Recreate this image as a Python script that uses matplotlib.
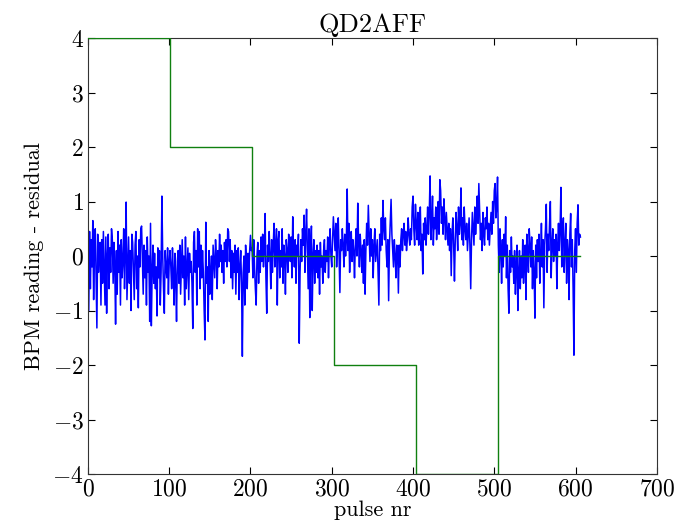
import numpy as np
import matplotlib
matplotlib.use("Agg")
import matplotlib.pyplot as plt

plt.rcParams["font.family"] = "serif"
plt.rcParams["font.serif"] = ["cmr10"]
plt.rcParams["mathtext.fontset"] = "cm"
plt.rcParams["axes.formatter.use_mathtext"] = True

# BPM residual per pulse in blocks of ~101 pulses
residual_a = [0.55, -1.0, 0.45, -0.6, 0.3, -0.2, 0.65, -0.8, 0.15, 0.5,
              -0.4, -1.32, 0.4, -0.3, 0.1, 0.25, -0.9, 0.3, -0.5, 0.45,
              -0.2, -0.9, 0.35, -1.05, 0.0, 0.4, -0.6, 0.15, -0.3, 0.5,
              0.3, -0.5, 0.25, -0.2, -1.25, 0.1, -0.7, 0.45, -0.3, 0.2,
              -0.9, 0.3, -0.4, -0.1, 0.5, -0.6, 0.05, 0.99, -0.8, -0.2,
              0.35, -0.5, 0.1, -1.0, 0.4, 0.25, -0.3, -0.8, 0.2, 0.45,
              -0.6, 0.0, -0.95, 0.3, -0.2, 0.5, 0.55, -0.1, -0.7, 0.2,
              -0.4, 0.1, -0.9, 0.35, -0.3, 0.0, -1.2, 0.6, -1.28, -0.3,
              0.2, -0.5, 0.05, -0.6, -0.2, -1.1, 0.15, -0.4, 0.1, -0.9,
              -0.3, 1.1, 0.0, -0.6, -1.05, 0.1, -0.2, -0.4, 0.15, -0.7, -0.1]
residual_b = [0.1, -0.2, -0.6, 0.15, -0.3, -0.9, 0.05, -0.4, -1.2, -0.1,
              0.1, -0.5, 0.2, -0.7, -0.2, 0.3, -0.4, 0.0, -0.9, 0.35,
              -0.6, -0.2, 0.15, -0.8, 0.05, -0.3, -0.1, -0.5, -1.33, 0.25,
              0.45, -0.3, 0.1, -0.9, 0.5, -0.2, 0.45, -0.6, 0.2, -0.4,
              0.1, -0.3, -1.0, -1.54, 0.62, -0.5, -0.2, -1.2, 0.1, -0.7,
              -0.3, 0.0, -0.8, 0.2, -0.1, -0.4, 0.3, 0.0, -0.6, 0.1,
              -0.2, 0.4, -0.1, 0.2, -0.3, 0.1, -0.5, 0.25, -0.1, 0.3,
              -0.2, 0.5, 0.45, -0.1, 0.3, -0.4, 0.1, -0.6, 0.05, -0.3,
              0.2, -0.7, 0.1, -0.3, 0.15, -0.8, -0.2, 0.1, -0.5, -1.84,
              -0.3, 0.0, -0.9, 0.2, -0.1, -0.6, 0.05, -0.3, 0.1, 0.38, 0.1]
residual_c = [0.15, -0.4, 0.3, -0.2, -0.6, -0.9, 0.0, 0.25, -0.5, 0.1,
              -0.3, 0.35, -0.1, 0.4, -0.2, 0.1, 0.78, -0.4, -1.05, 0.2,
              -0.1, 0.45, 0.0, -0.6, 0.3, -0.3, 0.2, 0.6, -0.2, 0.1,
              0.5, -0.9, 0.3, 0.45, -0.4, 0.1, -0.2, 0.5, -0.5, 0.2,
              0.0, -0.7, 0.3, 0.1, -0.3, 0.4, 0.2, -0.1, 0.35, -0.4,
              0.72, 0.1, -0.2, 0.3, -0.5, 0.2, 0.0, 0.4, -1.6, -0.3,
              0.3, -0.1, 0.5, 0.2, 0.75, -0.3, 0.4, 0.86, 0.1, -0.6,
              0.5, -1.13, 0.2, 0.55, -1.0, 0.0, 0.3, -0.5, 0.1, -0.3,
              0.2, -0.4, 0.1, -0.7, 0.25, -0.2, 0.0, -0.5, 0.1, 0.3,
              -0.3, 0.1, -0.1, 0.35, -0.4, 0.2, 0.5, 0.0, -0.2, 0.3, 0.72]
residual_d = [0.4, 0.1, 0.6, -0.2, 0.2, 0.7, 0.0, -0.67, 0.3, 0.1,
              0.5, 0.2, -0.2, 0.4, 0.0, 0.3, 1.23, 0.1, 0.6, -0.3,
              0.2, 0.45, -0.1, 0.3, 0.1, -0.4, 0.2, 0.5, 0.0, 0.97,
              0.3, -0.2, 0.4, 0.1, -0.3, 0.2, -0.5, 0.3, -0.7, 0.1,
              0.6, 0.2, 0.93, 0.4, -0.1, 0.5, 0.0, 0.3, -0.4, 0.2,
              0.5, -0.1, 0.1, 0.3, -0.3, -0.9, 0.4, 0.1, 0.7, 0.2,
              1.02, 0.5, 0.3, 0.7, 0.1, -0.2, 0.3, -0.82, 0.2, 0.6,
              1.04, 0.4, 0.1, -0.2, 0.3, 0.0, -0.4, 0.2, 0.1, -0.68,
              0.2, -0.2, 0.3, 0.5, 0.1, 0.4, 0.6, 0.2, 0.45, 0.1,
              0.3, 0.7, 0.4, 0.2, 0.5, 0.3, 0.9, 1.1, 0.5, 0.2, 0.95]
residual_e = [0.6, 0.3, 0.8, 0.2, 0.5, 0.9, 0.1, 0.4, -0.33, 0.6,
              0.3, 0.7, 0.2, 0.5, 0.9, 0.4, 0.8, 1.47, 0.3, 0.6,
              1.1, 0.2, 0.7, 0.5, 0.9, 0.3, 0.6, 1.0, 0.4, 1.4,
              1.2, 0.6, 0.9, 0.4, 1.05, 0.7, 0.3, 0.8, 0.5, 0.2,
              0.6, 0.1, 0.5, -0.36, 0.4, 0.7, 0.2, -0.46, 0.3, 0.8,
              0.5, 0.1, 0.9, 0.4, 0.6, 1.25, 0.3, 0.7, 0.2, 0.9,
              0.5, 0.3, 0.6, 0.1, 0.4, 0.7, 0.2, -0.6, 0.3, 0.8,
              0.5, 0.2, 0.9, 0.4, 0.7, 1.1, 0.6, 1.33, 0.8, 0.3,
              0.6, 0.1, 0.8, 0.4, 0.2, 0.7, 0.5, 0.9, 0.3, 0.6,
              0.2, 0.5, 0.8, 0.4, 1.0, 0.6, 1.2, 1.33, 0.7, 0.9, 1.45]
residual_f = [0.2, -0.3, 0.5, 0.1, -0.5, 0.3, -0.2, 0.4, 0.0, 0.72,
              -0.4, 0.2, -0.6, -1.05, 0.1, -0.3, 0.35, -0.2, 0.0, -0.5,
              0.1, -0.7, -0.2, 0.2, -1.0, -0.3, 0.1, -0.6, 0.0, -0.4,
              0.3, -0.5, -0.1, 0.2, -0.8, 0.4, 0.1, -0.3, 0.5, 0.2,
              -0.2, 0.35, -0.6, 0.1, -0.3, -1.14, 0.2, -0.4, 0.3, -0.1,
              0.4, -0.5, 0.0, 0.6, -0.2, 0.3, -0.95, 0.2, 0.5, 0.95,
              -0.3, 0.4, 0.1, 0.6, 1.0, -0.4, 0.2, 0.5, -0.1, 0.3,
              0.0, 0.4, -0.6, 0.2, 0.6, 0.1, 0.5, 1.26, -0.2, 0.4,
              0.7, -0.3, 0.2, 0.6, -0.5, 0.3, 0.1, -0.8, 0.4, 0.78,
              -0.2, 0.3, -0.6, -1.82, 0.1, 0.5, -0.3, 0.6, 0.94, 0.2, 0.4, 0.35]

# corrector setting steps (pulse where each level starts)
step_starts = [0, 101, 202, 303, 404, 505, 606]
step_levels = [4, 2, 0, -2, -4, 0, 0]

residual = np.array(residual_a + residual_b + residual_c + residual_d + residual_e + residual_f)
pulse = np.arange(len(residual))

fig = plt.figure(figsize=(6.98, 5.24), dpi=100)
ax = fig.add_axes([0.126, 0.0954, 0.815, 0.832])

ax.plot(pulse, residual, color='#0000ff', linewidth=1.1)
ax.step(step_starts, step_levels, where='post', color='#108010', linewidth=1.0, zorder=3)

ax.set_xlim(0, 700)
ax.set_ylim(-4, 4)
ax.set_xticks(range(0, 701, 100))
ax.set_yticks(range(-4, 5, 1))
ax.tick_params(direction='in', top=True, right=True, labelsize=17, length=5, pad=3)
for sp in ax.spines.values():
    sp.set_color('#333333')

ax.set_title('QD2AFF', fontsize=19, pad=4)
ax.set_xlabel('pulse nr', fontsize=16, labelpad=0)
ax.set_ylabel('BPM reading - residual', fontsize=16, labelpad=6)

fig.savefig('out.png', dpi=100)
